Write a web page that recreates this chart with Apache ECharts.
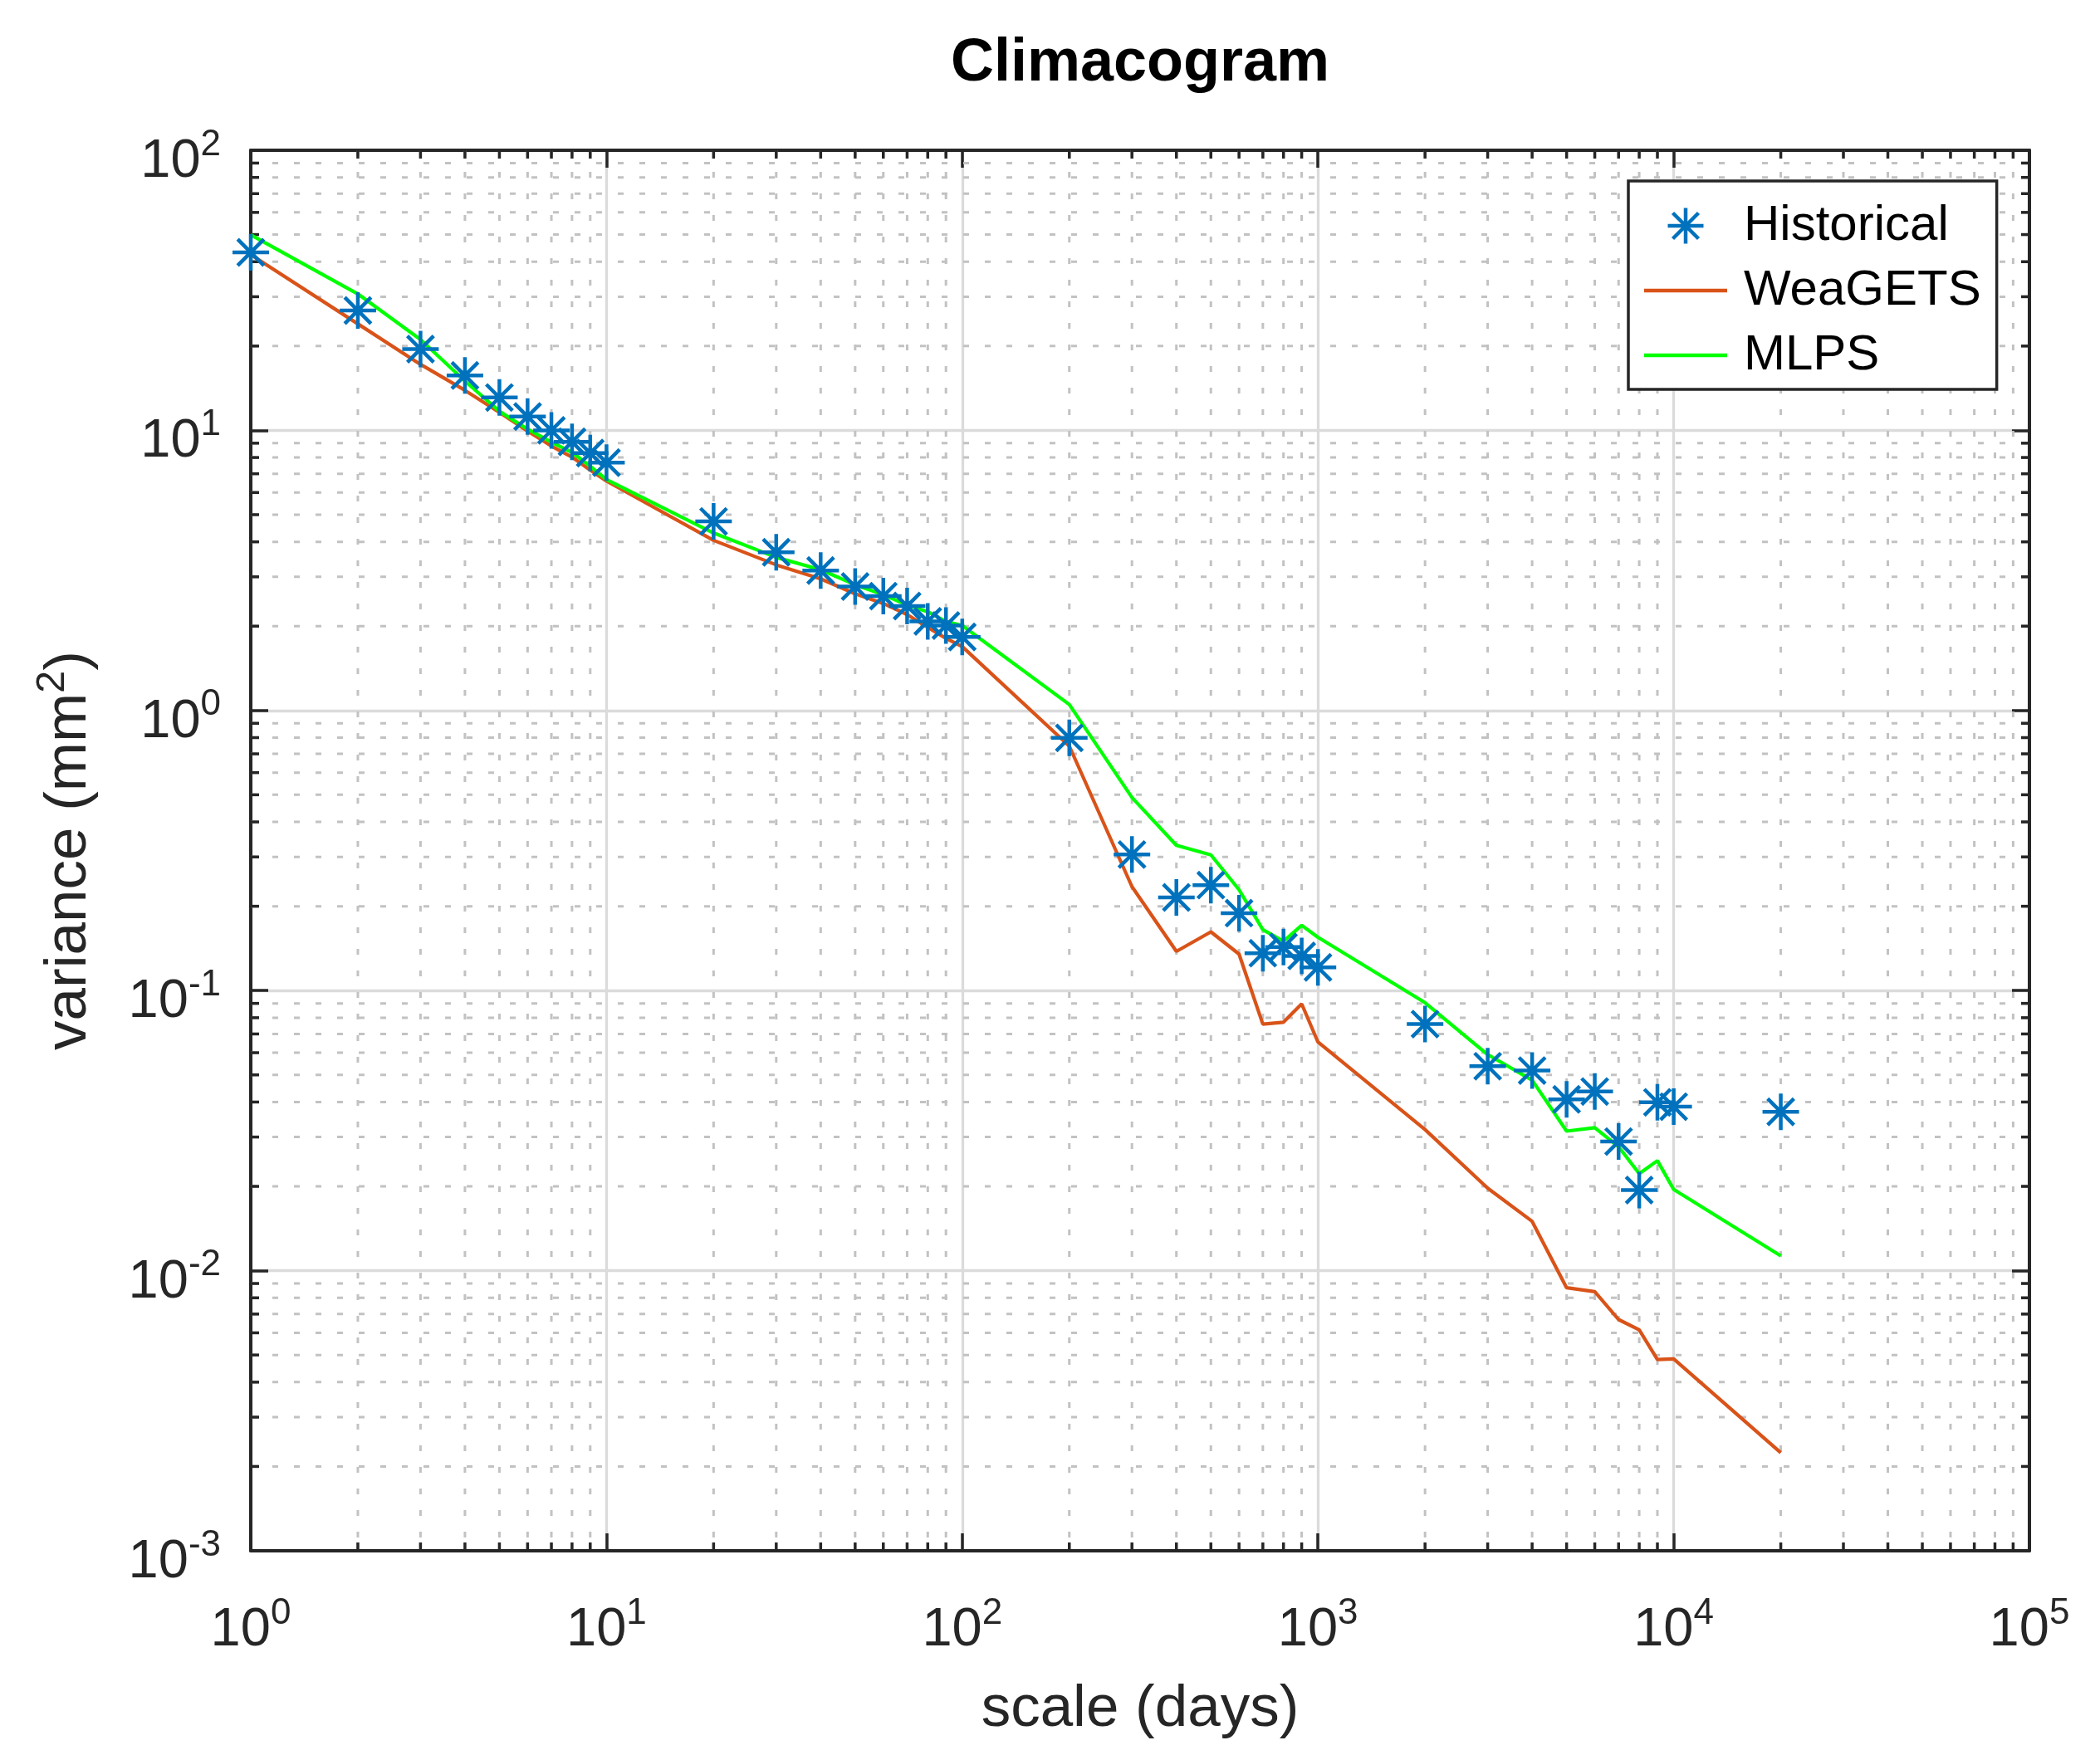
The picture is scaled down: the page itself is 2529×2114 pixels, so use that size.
<!DOCTYPE html>
<html style="height: 100%">
<head>
	<meta charset="utf-8">
</head>
<body style="height: 100%; margin: 0; background-color: #fff;">
<div id="container" style="width: 2529px; height: 2114px"></div>
<script type="text/javascript" src="https://cdn.jsdelivr.net/npm/echarts@6/dist/echarts.min.js"></script>
<script type="text/javascript">
	// aggregation scale (days)
	var scales = [1, 2, 3, 4, 5, 6, 7, 8, 9, 10, 20, 30, 40, 50, 60, 70, 80, 90, 100,
		200, 300, 400, 500, 600, 700, 800, 900, 1000, 2000, 3000, 4000, 5000, 6000, 7000, 8000, 9000, 10000, 20000];
	var historical = [43.2, 26.8, 19.5, 15.7, 13.1, 11.2, 10.0, 9.1, 8.3, 7.67, 4.73, 3.67, 3.16, 2.77, 2.56, 2.36, 2.08, 2.01, 1.83,
		0.798, 0.306, 0.215, 0.238, 0.189, 0.136, 0.143, 0.133, 0.121, 0.0759, 0.0537, 0.0518, 0.0409, 0.0436, 0.0289, 0.0194, 0.0399, 0.0385, 0.0369];
	var weagets = [42.4, 24.0, 17.2, 13.9, 11.6, 9.94, 8.79, 8.03, 7.21, 6.59, 4.05, 3.31, 2.95, 2.61, 2.41, 2.20, 1.98, 1.81, 1.69,
		0.746, 0.235, 0.138, 0.162, 0.135, 0.0759, 0.0771, 0.0896, 0.0655, 0.0319, 0.0197, 0.0150, 0.00869, 0.00842, 0.00669, 0.00615, 0.00482, 0.00484, 0.00224];
	var mlps = [49.9, 30.7, 21.1, 15.0, 11.7, 10.1, 9.08, 8.34, 7.45, 6.68, 4.3, 3.52, 3.18, 2.81, 2.59, 2.38, 2.25, 2.08, 2.01,
		1.05, 0.489, 0.330, 0.305, 0.229, 0.165, 0.150, 0.171, 0.155, 0.0905, 0.0591, 0.0479, 0.0315, 0.0324, 0.0277, 0.0222, 0.0247, 0.0195, 0.0113];

	// minor tick multipliers and decades of each axis
	var minorSteps = [2, 3, 4, 5, 6, 7, 8, 9];
	var xDecades = [1, 10, 100, 1000, 10000];
	var yDecades = [0.001, 0.01, 0.1, 1, 10];

	var FONT = '"Liberation Sans", Arial, Helvetica, sans-serif';
	var AXIS = '#262626';

	function zip(xs, ys) {
		return xs.map(function(x, i) { return [x, ys[i]]; });
	}

	var minorData = [];
	xDecades.forEach(function(d) {
		minorSteps.forEach(function(k) { minorData.push([k * d, 1, 0]); });
	});
	yDecades.forEach(function(d) {
		minorSteps.forEach(function(k) { minorData.push([1, k * d, 1]); });
	});

	function powLabel(v) {
		var n = Math.round(Math.log(v) / Math.LN10);
		return '{b|10}{s|' + n + '}';
	}
	// "10" with a raised exponent, like matlab's tick labels
	var powRich = {
		b: { fontSize: 65, lineHeight: 65, fontFamily: FONT, color: AXIS, verticalAlign: 'bottom' },
		s: { fontSize: 44, lineHeight: 93, fontFamily: FONT, color: AXIS, verticalAlign: 'bottom', padding: [0, 0, 31, 0] }
	};

	function logAxis(pos, min, max, main) {
		return {
			type: 'log',
			logBase: 10,
			position: pos,
			min: min,
			max: max,
			splitNumber: 5,
			axisLine: { show: true, onZero: false, lineStyle: { color: AXIS, width: 4 } },
			axisTick: { show: true, inside: true, length: 21, lineStyle: { color: AXIS, width: 3.5 } },
			axisLabel: main ? {
				show: true,
				margin: 36,
				formatter: powLabel,
				rich: powRich
			} : { show: false },
			splitLine: { show: main, lineStyle: { color: '#dbdbdb', width: 3.3 } },
			minorTick: { show: false },
			minorSplitLine: { show: false }
		};
	}

	var xBottom = logAxis('bottom', 1, 100000, true);
	xBottom.name = 'scale (days)';
	xBottom.nameLocation = 'middle';
	xBottom.nameGap = 156;
	xBottom.nameTextStyle = { fontSize: 71, fontFamily: FONT, color: AXIS };

	var yLeft = logAxis('left', 0.001, 100, true);
	yLeft.name = '{n|variance (mm}{s|2}{n|)}';
	yLeft.nameLocation = 'middle';
	yLeft.nameGap = 183;
	yLeft.nameTextStyle = {
		fontFamily: FONT, color: AXIS,
		rich: {
			n: { fontSize: 71, lineHeight: 71, fontFamily: FONT, color: AXIS, verticalAlign: 'bottom' },
			s: { fontSize: 49, lineHeight: 49, fontFamily: FONT, color: AXIS, verticalAlign: 'bottom', padding: [0, 0, 31, 0] }
		}
	};

	var dom = document.getElementById('container');
	var myChart = echarts.init(dom, null, { renderer: 'canvas' });

	var option = {
		animation: false,
		backgroundColor: '#fff',
		title: {
			text: 'Climacogram',
			left: 1368,
			top: 36,
			textAlign: 'center',
			textStyle: { fontSize: 72, fontWeight: 'bold', fontFamily: FONT, color: '#000' }
		},
		grid: { left: 302, right: 85, top: 181, bottom: 246, containLabel: false },
		legend: {
			orient: 'vertical',
			left: 1961,
			top: 218,
			itemWidth: 100,
			itemHeight: 43,
			itemGap: 18,
			padding: [24, 19, 11, 19],
			borderColor: AXIS,
			borderWidth: 3.5,
			backgroundColor: '#fff',
			textStyle: { fontSize: 60, fontFamily: FONT, color: '#000', padding: [0, 0, 0, 15] },
			data: [
				{ name: 'Historical', itemStyle: { borderColor: '#0072BD', borderWidth: 4.5, opacity: 1 } },
				{ name: 'WeaGETS', icon: 'path://M0,0L100,0L100,4.5L0,4.5Z' },
				{ name: 'MLPS', icon: 'path://M0,0L100,0L100,4.5L0,4.5Z' }
			]
		},
		xAxis: [xBottom, logAxis('top', 1, 100000, false)],
		yAxis: [yLeft, logAxis('right', 0.001, 100, false)],
		series: [
			{
				// minor grid (dotted) and minor ticks on all four sides
				name: 'minor',
				type: 'custom',
				silent: true,
				z: 1,
				encode: { x: 0, y: 1 },
				data: minorData,
				renderItem: function(params, api) {
					var cs = params.coordSys;
					var kind = api.value(2);
					var grid = { stroke: '#c2c2c2', lineWidth: 3, lineDash: [7, 19] };
					var tick = { stroke: AXIS, lineWidth: 3.5 };
					var top = cs.y, bottom = cs.y + cs.height, left = cs.x, right = cs.x + cs.width;
					if (kind === 0) {
						var x = api.coord([api.value(0), 1])[0];
						return { type: 'group', children: [
							{ type: 'line', shape: { x1: x, y1: top, x2: x, y2: bottom }, style: grid },
							{ type: 'line', shape: { x1: x, y1: bottom, x2: x, y2: bottom - 10 }, style: tick },
							{ type: 'line', shape: { x1: x, y1: top, x2: x, y2: top + 10 }, style: tick }
						] };
					}
					var y = api.coord([1, api.value(1)])[1];
					return { type: 'group', children: [
						{ type: 'line', shape: { x1: left, y1: y, x2: right, y2: y }, style: grid },
						{ type: 'line', shape: { x1: left, y1: y, x2: left + 10, y2: y }, style: tick },
						{ type: 'line', shape: { x1: right, y1: y, x2: right - 10, y2: y }, style: tick }
					] };
				}
			},
			{
				name: 'Historical',
				type: 'scatter',
				z: 4,
				symbol: 'path://M0,-1L0,1M-1,0L1,0M-0.72,-0.72L0.72,0.72M-0.72,0.72L0.72,-0.72',
				symbolSize: 44,
				itemStyle: { color: 'none', borderColor: '#0072BD', borderWidth: 4.5, opacity: 1 },
				data: zip(scales, historical)
			},
			{
				name: 'WeaGETS',
				type: 'line',
				z: 3,
				symbol: 'none',
				lineStyle: { color: '#D95319', width: 4.2 },
				itemStyle: { color: '#D95319' },
				data: zip(scales, weagets)
			},
			{
				name: 'MLPS',
				type: 'line',
				z: 3,
				symbol: 'none',
				lineStyle: { color: '#00FF00', width: 4.2 },
				itemStyle: { color: '#00FF00' },
				data: zip(scales, mlps)
			}
		]
	};
	myChart.setOption(option);
</script>
</body>
</html>
